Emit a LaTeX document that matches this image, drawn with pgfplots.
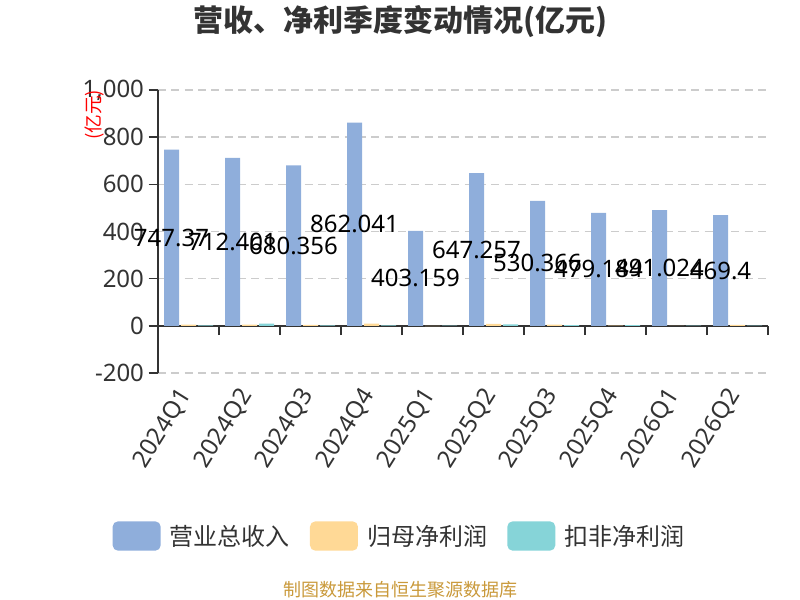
\documentclass[border=0pt]{standalone}
\usepackage{pgfplots}
\pgfplotsset{compat=1.18}
\usepackage{pgfplotstable}
\usepackage{fontspec}
\setmainfont{Noto Sans}
\newfontfamily\cjk{Noto Sans CJK SC}
\definecolor{cRev}{RGB}{143,174,219}
\definecolor{cNet}{RGB}{255,217,150}
\definecolor{cDed}{RGB}{134,212,216}
\definecolor{axc}{HTML}{333333}
\definecolor{gridc}{HTML}{CCCCCC}
\definecolor{footc}{HTML}{C9993A}

\pgfplotstableread{
x y lab
0 747.37 747.37
1 712.401 712.401
2 680.356 680.356
3 862.041 862.041
4 403.159 403.159
5 647.257 647.257
6 530.366 530.366
7 479.184 479.184
8 491.024 491.024
9 469.4 469.4
}\rev
\pgfplotstableread{
x y
0 5.5
1 4.8
2 4.0
3 9.5
4 -1.5
5 8.0
6 5.0
7 0.5
8 0.3
9 4.0
}\net
\pgfplotstableread{
x y
0 2.0
1 9.0
2 1.5
3 1.5
4 1.0
5 6.0
6 3.0
7 3.5
8 0.5
9 1.0
}\ded

\pgfplotsset{
  mylegend/.style={legend image code/.code={\fill[##1,draw=none,rounded corners=4pt] (0pt,-11pt) rectangle (36pt,11pt);}},
}

\begin{document}
\begin{tikzpicture}
\useasboundingbox (0pt,0pt) rectangle (600pt,-450pt);
\begin{axis}[
  at={(118.5pt,-279.75pt)}, anchor=south west,
  scale only axis, width=457.5pt, height=212.25pt,
  xmin=-0.5, xmax=9.5, ymin=-200, ymax=1000,
  axis x line=middle, axis y line=left,
  axis line style={-, draw=axc, line width=1.1pt},
  hide obscured x ticks=false, hide obscured y ticks=false,
  xtick={-0.5,0.5,...,9.5}, xticklabels={},
  ytick={-200,0,200,400,600,800,1000},
  xtick align=outside, ytick align=outside,
  major tick length=7pt,
  tick style={draw=axc, line width=1.1pt},
  ymajorgrids=true,
  grid style={gridc, line width=1.1pt, dash pattern=on 6pt off 4pt},
  /pgf/number format/assume math mode=true,
  yticklabel style={font=\fontsize{18}{20}\selectfont, text=axc},
  ylabel={\cjk (亿元)},
  ylabel style={at={(rel axis cs:-0.1033,0.9117)}, anchor=center, font=\fontsize{14}{16}\selectfont, text=red},
  ybar=1.5pt, bar width=11.25pt,
  legend columns=3,
  legend style={at={(0.3967,-0.576)}, anchor=center, draw=none, fill=none,
    font=\cjk\fontsize{18}{20}\selectfont, text=axc,
    /tikz/every odd column/.append style={column sep=5pt},
    /tikz/every even column/.append style={column sep=13pt}},
]
\addplot[fill=cRev, draw=none, mylegend,
  point meta=explicit symbolic,
  visualization depends on={0.5*\thisrow{y} \as \halfy},
  nodes near coords,
  every node near coord/.append style={anchor=center, font=\fontsize{18}{20}\selectfont, text=black,
     shift={(axis direction cs:0,-\halfy)}},
] table[x=x, y=y, meta=lab] {\rev};
\addplot[fill=cNet, draw=none, mylegend] table[x=x, y=y] {\net};
\addplot[fill=cDed, draw=none, mylegend] table[x=x, y=y] {\ded};
\legend{营业总收入,归母净利润,扣非净利润}
\end{axis}
\begin{axis}[
  at={(118.5pt,-279.75pt)}, anchor=south west,
  scale only axis, width=457.5pt, height=212.25pt,
  xmin=-0.5, xmax=9.5, ymin=-200, ymax=1000,
  axis x line=bottom, axis y line=none,
  x axis line style={draw=none},
  xtick={0,1,...,9},
  xticklabels={2024Q1,2024Q2,2024Q3,2024Q4,2025Q1,2025Q2,2025Q3,2025Q4,2026Q1,2026Q2},
  major tick length=0pt, xtick style={draw=none},
  xticklabel shift=11pt,
  xticklabel style={rotate=58, anchor=east, font=\fontsize{18}{20}\selectfont, text=axc},
  ytick=\empty,
]
\end{axis}
\node[font=\cjk\bfseries\fontsize{22.5}{26}\selectfont, text=axc] at (300pt,-16.5pt) {营收、净利季度变动情况(亿元)};
\node[font=\cjk\fontsize{13.5}{15}\selectfont, text=footc] at (300pt,-442.5pt) {制图数据来自恒生聚源数据库};
\end{tikzpicture}
\end{document}
